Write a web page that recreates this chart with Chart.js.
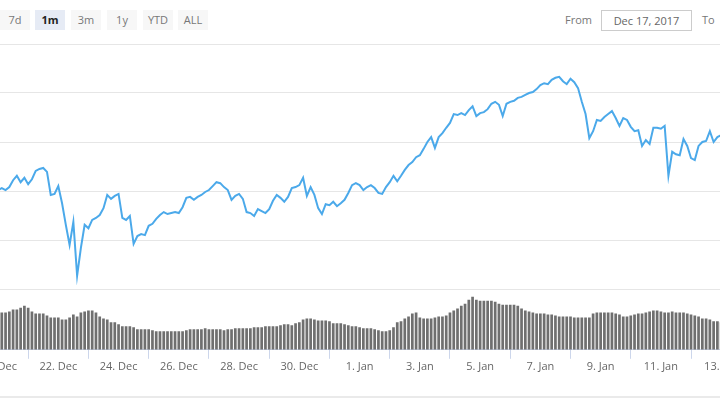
<!DOCTYPE html>
<html>
<head>
<meta charset="utf-8">
<script src="https://cdn.jsdelivr.net/npm/chart.js@4"></script>
<style>
  body { margin: 0; width: 720px; height: 400px; overflow: hidden; position: relative; background: #fff; font-family: "Open Sans", sans-serif; }
  .btn { position: absolute; top: 10px; width: 30px; height: 20px; line-height: 20px; text-align: center; font-size: 11px; color: #777; background: #f7f7f7; }
  .btn.on { background: #e6ebf5; color: #222; font-weight: bold; }
  .lbl { position: absolute; top: 10px; height: 20px; line-height: 20px; font-size: 11px; color: #777; }
  .box { position: absolute; top: 10px; left: 601px; width: 89px; height: 19px; line-height: 19px; border: 1px solid #ccc; font-size: 11px; color: #666; text-align: center; }
  canvas { position: absolute; left: -60px; }
  #price { top: 34px; }
  #vol { top: 280px; }
  .foot { position: absolute; left: 0; top: 396px; width: 720px; height: 2px; background: #eaeaea; }
</style>
</head>
<body>
<div class="btn" style="left:0px">7d</div>
<div class="btn on" style="left:35px">1m</div>
<div class="btn" style="left:71px">3m</div>
<div class="btn" style="left:107px">1y</div>
<div class="btn" style="left:143px">YTD</div>
<div class="btn" style="left:178px">ALL</div>
<div class="lbl" style="left:565px">From</div>
<div class="box">Dec 17, 2017</div>
<div class="lbl" style="left:702px">To</div>
<canvas id="price" width="840" height="265"></canvas>
<canvas id="vol" width="840" height="100"></canvas>
<div class="foot"></div>
<script>
// days counted from 20 Dec 2017 00:00, one point every 3 hours
const startDay = 0;
const stepDays = 0.125;

// total market cap, billions USD
const marketCap = [
  602, 606, 602, 608, 622, 631, 618, 627, 614, 624,
  641, 645, 647, 639, 592, 594, 610, 575, 531, 490,
  537, 427, 484, 531, 524, 541, 545, 551, 565, 592,
  584, 590, 594, 545, 541, 549, 492, 508, 512, 510,
  529, 533, 543, 551, 557, 553, 555, 557, 555, 567,
  586, 588, 582, 588, 592, 598, 602, 610, 618, 616,
  608, 602, 582, 590, 594, 584, 557, 555, 549, 563,
  559, 555, 563, 580, 592, 586, 578, 588, 606, 608,
  612, 627, 590, 608, 592, 565, 553, 573, 571, 578,
  569, 575, 582, 596, 612, 616, 612, 602, 608, 612,
  606, 596, 594, 608, 618, 631, 620, 631, 643, 653,
  659, 669, 673, 686, 700, 710, 688, 710, 718, 729,
  739, 757, 755, 759, 755, 765, 773, 753, 759, 761,
  767, 778, 782, 776, 753, 778, 782, 784, 790, 792,
  796, 800, 802, 808, 816, 820, 818, 827, 831, 833,
  824, 818, 829, 822, 810, 782, 757, 708, 722, 745,
  743, 751, 757, 763, 749, 733, 749, 745, 731, 722,
  724, 692, 704, 696, 729, 729, 727, 733, 631, 680,
  675, 673, 706, 692, 667, 663, 692, 700, 702, 722,
  700, 710, 714
];

// 24h volume, billions USD
const volume = [
  19, 19, 19, 19.5, 20.5, 20.5, 21.5, 22.5, 21.5, 19.5,
  18.5, 18.5, 18.5, 17.5, 16.5, 16.5, 16.5, 15.5, 15.5, 16.5,
  18, 17, 19, 19.5, 20, 20, 19, 17, 16, 15.5,
  14, 14, 13, 12, 12, 12, 11.5, 10.5, 10.5, 10.5,
  10.5, 10, 9.5, 9.5, 9.5, 9.5, 9.5, 9.5, 9.5, 9.5,
  10, 10.5, 10.5, 10.5, 10.5, 11, 10.5, 10.5, 10.5, 10.5,
  10, 10.5, 10.5, 11, 11, 11, 11, 11, 11.5, 11.5,
  11.5, 12, 12, 12, 12, 12.5, 13, 13, 12.5, 13.5,
  14, 15.5, 16, 16, 15.5, 15, 15, 15, 14.5, 13.5,
  13.5, 13.5, 13, 12.5, 12, 12, 11.5, 11, 11, 11,
  10.5, 10, 9.5, 9.5, 10, 11.5, 14, 14.5, 16, 17,
  18.5, 19, 16.5, 16, 16, 16, 16.5, 17, 17, 17.5,
  19, 20, 21, 22.5, 23.5, 25.5, 27, 25.5, 25, 25,
  25, 25, 24.5, 23.5, 23, 23, 23, 23, 22.5, 21,
  20, 19.5, 19, 18.5, 18.5, 18.5, 18, 18, 17.5, 17,
  17, 17, 17, 16.5, 16.5, 16.5, 16.5, 16.5, 18.5, 19,
  19, 19, 19, 19, 18.5, 18, 17, 17, 17.5, 18,
  18.5, 18.5, 19, 19.5, 20, 20, 19.5, 19, 19, 19.5,
  19, 19, 19, 18.5, 18, 17.5, 17, 16, 16, 15.5,
  14.5, 14.5, 14
];

const tickDays = [0, 2, 4, 6, 8, 10, 12, 14, 16, 18, 20, 22, 24];
const tickLabels = ['20. Dec', '22. Dec', '24. Dec', '26. Dec', '28. Dec', '30. Dec',
  '1. Jan', '3. Jan', '5. Jan', '7. Jan', '9. Jan', '11. Jan', '13. Jan'];

// visible window (the canvas is wider than the page and gets cropped)
const viewMin = -1.926;
const viewMax = 25.953;

const days = marketCap.map((_, i) => startDay + i * stepDays);

new Chart(document.getElementById('price'), {
  type: 'line',
  data: {
    datasets: [{
      data: days.map((d, i) => ({ x: d, y: marketCap[i] })),
      borderColor: '#4ba9ea',
      borderWidth: 2,
      pointRadius: 0,
      tension: 0,
      fill: false
    }]
  },
  options: {
    responsive: false,
    animation: false,
    layout: { padding: { top: 10, bottom: 10, left: 0, right: 0 } },
    plugins: { legend: { display: false }, tooltip: { enabled: false } },
    scales: {
      x: { type: 'linear', min: viewMin, max: viewMax, display: false },
      y: {
        min: 400, max: 900,
        ticks: { display: false, stepSize: 100 },
        grid: { color: '#e6e6e6', drawTicks: false },
        border: { display: false }
      }
    }
  }
});

new Chart(document.getElementById('vol'), {
  type: 'bar',
  data: {
    datasets: [{
      data: days.map((d, i) => ({ x: d, y: volume[i] })),
      backgroundColor: '#6f6f6f',
      barPercentage: 0.72,
      categoryPercentage: 1
    }]
  },
  options: {
    responsive: false,
    animation: false,
    layout: { padding: { top: 9, bottom: 6, left: 0, right: 0 } },
    plugins: { legend: { display: false }, tooltip: { enabled: false } },
    scales: {
      x: {
        type: 'linear', min: viewMin, max: viewMax, offset: false,
        afterBuildTicks: s => { s.ticks = tickDays.map(v => ({ value: v })); },
        ticks: {
          callback: v => tickLabels[tickDays.indexOf(v)],
          color: '#666',
          font: { family: 'Open Sans', size: 11 },
          padding: 1, maxRotation: 0, autoSkip: false
        },
        grid: { drawOnChartArea: false, color: '#ccd6eb', tickLength: 9 },
        border: { color: '#ccd6eb' }
      },
      y: { display: false, min: 0, max: 31 }
    }
  }
});
</script>
</body>
</html>
